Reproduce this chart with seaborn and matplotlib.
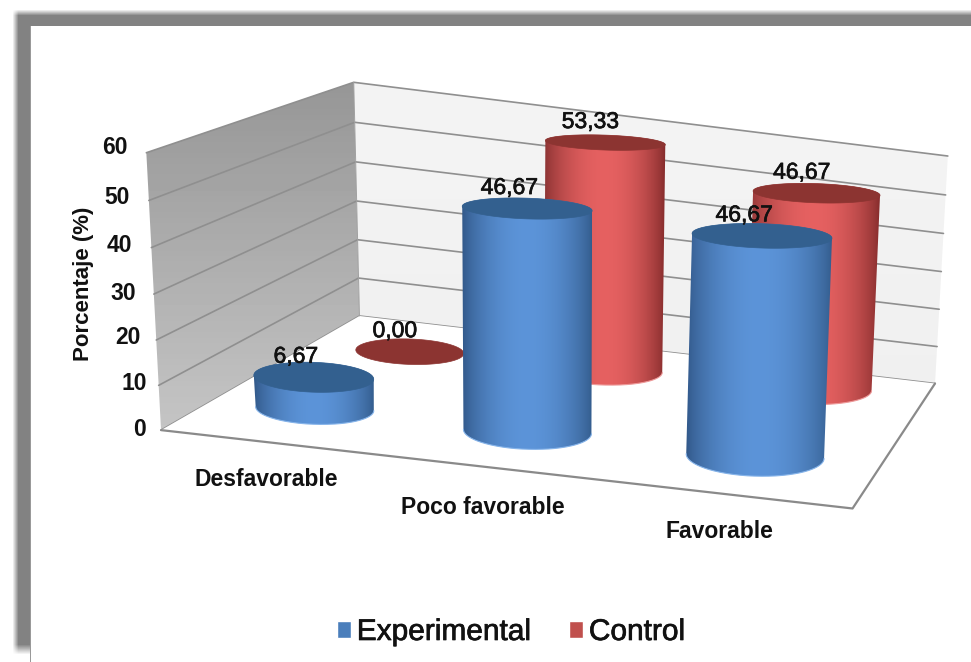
import numpy as np
import pandas as pd
import matplotlib
matplotlib.use("Agg")
import matplotlib.pyplot as plt
import matplotlib.patheffects as pe
from matplotlib.patches import Polygon
import seaborn as sns

# ---------- data ----------
categories = ["Desfavorable", "Poco favorable", "Favorable"]
series_names = ["Experimental", "Control"]
experimental = [6.67, 46.67, 46.67]
control = [0.00, 53.33, 46.67]
value_ticks = [0, 10, 20, 30, 40, 50, 60]
y_title = "Porcentaje (%)"

W, H = 971, 662
sns.set_theme(style="white")
plt.rcParams["font.family"] = ["Liberation Sans", "DejaVu Sans"]
palette = sns.color_palette(["#4A7EBB", "#C0504D"])

fig = plt.figure(figsize=(W / 100, H / 100), dpi=100, facecolor="white")

# seaborn resolves the grouped bars; their heights and colours feed the 3D view
df = pd.DataFrame({
    "Categoria": categories * 2,
    "Grupo": [series_names[0]] * 3 + [series_names[1]] * 3,
    "Porcentaje": experimental + control,
})
ax_bars = fig.add_axes([0, 0, 1, 1])
sns.barplot(data=df, x="Categoria", y="Porcentaje", hue="Grupo", palette=palette,
            ax=ax_bars, errorbar=None, saturation=1)
handles, labels = ax_bars.get_legend_handles_labels()
bars = [[b.get_height() for b in cont] for cont in ax_bars.containers]
ax_bars.get_legend().remove()
ax_bars.set_visible(False)

ax = fig.add_axes([0, 0, 1, 1])
ax.set_axis_off()

# ---------- camera: fits the box corners of the chart ----------
world = np.array([[0, 0, 0], [3, 0, 0], [3, 1, 0], [0, 1, 0],
                  [0, 0, 60], [0, 1, 60], [3, 1, 60]], float)
screen = np.array([[163, 430], [850, 514], [937, 375], [358, 320],
                   [147, 147], [353, 83], [948, 160]], float)
A, b = [], []
for (X, Y, Z), (u, v) in zip(world, screen):
    A.append([X, Y, Z, 1, 0, 0, 0, 0, -u * X, -u * Y, -u * Z]); b.append(u)
    A.append([0, 0, 0, 0, X, Y, Z, 1, -v * X, -v * Y, -v * Z]); b.append(v)
p = np.linalg.lstsq(np.array(A), np.array(b), rcond=None)[0]
P = np.append(p, 1.0).reshape(3, 4)


def project(x, y, z):
    x, y, z = np.broadcast_arrays(x, y, z)
    q = P @ np.vstack([x.ravel(), y.ravel(), z.ravel(), np.ones(x.size)])
    return np.column_stack([q[0] / q[2], q[1] / q[2]])


# ---------- slide frame with soft shadow ----------
xx, yy = np.meshgrid(np.arange(W), np.arange(H))
shadow = (np.clip((xx - 12) / 6, 0, 1) * np.clip((yy - 9) / 6, 0, 1)
          * np.clip((654 - yy) / 10, 0, 1))
frame = 1 - shadow * (1 - 0.51)
frame[(xx >= 31) & (yy >= 26)] = 1.0
frame[(xx == 30) & (yy >= 26)] = 0.6
ax.imshow(frame, cmap="gray", vmin=0, vmax=1, extent=(0, W, H, 0), aspect="auto",
          interpolation="bilinear", zorder=0)


def gradient_poly(corners, top, bottom, z):
    poly = Polygon(corners, closed=True, transform=ax.transData, fc="none", ec="none")
    ax.add_patch(poly)
    ys = np.linspace(0, 1, 64)[:, None]
    img = (1 - ys) * top + ys * bottom
    ymin, ymax = corners[:, 1].min(), corners[:, 1].max()
    xmin, xmax = corners[:, 0].min(), corners[:, 0].max()
    im = ax.imshow(img, cmap="gray", vmin=0, vmax=1, aspect="auto",
                   extent=(xmin, xmax, ymax, ymin), zorder=z)
    im.set_clip_path(poly)


# ---------- walls, grid, floor ----------
z_max = value_ticks[-1]
gradient_poly(project([0, 0, 0, 0], [0, 1, 1, 0], [0, 0, z_max, z_max]), 0.59, 0.77, 1)
gradient_poly(project([0, 3, 3, 0], [1, 1, 1, 1], [0, 0, z_max, z_max]), 0.955, 0.94, 1)
grid_c = "#8F8F8F"
for t in value_ticks:
    pts = project([0, 0, 3], [0, 1, 1], [t, t, t])
    ax.plot(pts[:, 0], pts[:, 1], color=grid_c, lw=1.2, zorder=2)
floor = project([0, 3, 3, 0], [0, 0, 1, 1], [0, 0, 0, 0])
ax.add_patch(Polygon(floor, closed=True, fc="white", ec="none", zorder=2.5))
edge = project([0, 3, 3], [0, 0, 1], [0, 0, 0])
ax.plot(edge[:, 0], edge[:, 1], color="#8A8A8A", lw=1.6, zorder=2.6)
wall_edge = project([0, 0], [1, 1], [z_max, 0])
ax.plot(wall_edge[:, 0], wall_edge[:, 1], color="#A0A0A0", lw=0.7, zorder=2.6)

# ---------- cylinders: floor placement and screen ellipses ----------
place_x = [[0.435, 1.39, 2.43], [0.46, 1.40, 2.415]]
place_y = [[0.25, 0.26, 0.27], [0.75, 0.78, 0.83]]
half_width = [[60, 65, 70], [54, 60, 63.5]]
height_gain = [1.105, 1.075]
tilt = np.deg2rad(2.0)
shades = [((0.19, 0.34, 0.53), (0.36, 0.58, 0.85), (0.20, 0.36, 0.55)),
          ((0.53, 0.19, 0.19), (0.90, 0.38, 0.38), (0.50, 0.16, 0.16))]
caps = ["#33608F", "#8C3431"]
rims = ["#86B4EA", "#EE9A9A"]
theta = np.linspace(0, 2 * np.pi, 361)
front = theta[:-1] <= np.pi
back = ~front


def body_gradient(tri):
    t = np.linspace(0, 1, 256)
    w = np.sin(np.pi * t) ** 0.75
    left, mid, right = (np.array(c) for c in tri)
    side = np.where(t[:, None] < 0.5, left, right)
    return (side + (mid - side) * w[:, None])[None, :, :]


def ellipse(center, a):
    k = 0.125 + 0.00053 * (center[1] - 144)
    ex = a * np.cos(theta)
    ey = a * k * np.sin(theta)
    return np.column_stack([center[0] + ex * np.cos(tilt) - ey * np.sin(tilt),
                            center[1] + ex * np.sin(tilt) + ey * np.cos(tilt)])


def cylinder(cat, s, value, z):
    cx, cy = place_x[s][cat], place_y[s][cat]
    a = half_width[s][cat]
    c_bottom = project(cx, cy, 0)[0]
    c_top = project(cx, cy, value * height_gain[s])[0]
    top = ellipse(c_top, a)
    if value > 0:
        bottom = ellipse(c_bottom, a * 0.985)
        outline = np.vstack([bottom[:-1][front], top[:-1][back]])
        body = Polygon(outline, closed=True, fc="none", ec="none")
        ax.add_patch(body)
        im = ax.imshow(body_gradient(shades[s]), aspect="auto", zorder=z,
                       extent=(outline[:, 0].min(), outline[:, 0].max(),
                               outline[:, 1].max(), outline[:, 1].min()))
        im.set_clip_path(body)
        rim = bottom[:-1][front]
        ax.plot(rim[:, 0], rim[:, 1], color=rims[s], lw=0.8, zorder=z + 0.05)
    ax.add_patch(Polygon(top, closed=True, fc=caps[s], ec=caps[s], lw=0.5, zorder=z + 0.1))
    return c_top


labels_xy = []
for cat in range(len(categories)):
    for s in (1, 0):
        value = bars[s][cat]
        c = cylinder(cat, s, value, 3 + cat * 2 + (1 - s))
        txt = f"{value:.2f}".replace(".", ",")
        labels_xy.append((c[0] - (18 if s == 0 else 15), c[1] - 21, txt))

for x, y, txt in labels_xy:
    ax.text(x, y, txt, ha="center", va="center", fontsize=16.5, color="#111111", zorder=20,
            path_effects=[pe.withStroke(linewidth=0.5, foreground="#111111")])

# ---------- axis text ----------
tick_x = [139, 134, 128, 123, 119, 117, 115]
tick_y = [429, 384, 338, 293, 246, 197, 147]
for t, x, y in zip(value_ticks, tick_x, tick_y):
    ax.text(x, y, str(t), ha="center", va="center", fontsize=16.5, fontweight="bold",
            color="#111111", zorder=20)
ax.text(84, 284, y_title, rotation=90, ha="center", va="center", fontsize=16,
        fontweight="bold", color="#111111", zorder=20)
for name, x, y in zip(categories, [266, 483, 719], [479, 507, 532]):
    ax.text(x, y, name, ha="center", va="center", fontsize=16.5, fontweight="bold",
            color="#111111", zorder=20)

# ---------- legend ----------
leg = ax.legend(handles, labels, ncol=2, loc="center", bbox_to_anchor=(511 / W, 1 - 632 / H),
                bbox_transform=fig.transFigure, frameon=False, fontsize=21.5,
                handlelength=0.47, handleheight=0.47, handletextpad=0.2, columnspacing=1.25,
                borderpad=0, borderaxespad=0)
leg.set_zorder(20)
for tx in leg.get_texts():
    tx.set_color("#111111")
    tx.set_path_effects([pe.withStroke(linewidth=0.5, foreground="#111111")])

ax.set_xlim(0, W)
ax.set_ylim(H, 0)
fig.savefig("out.png", dpi=100, facecolor="white")
